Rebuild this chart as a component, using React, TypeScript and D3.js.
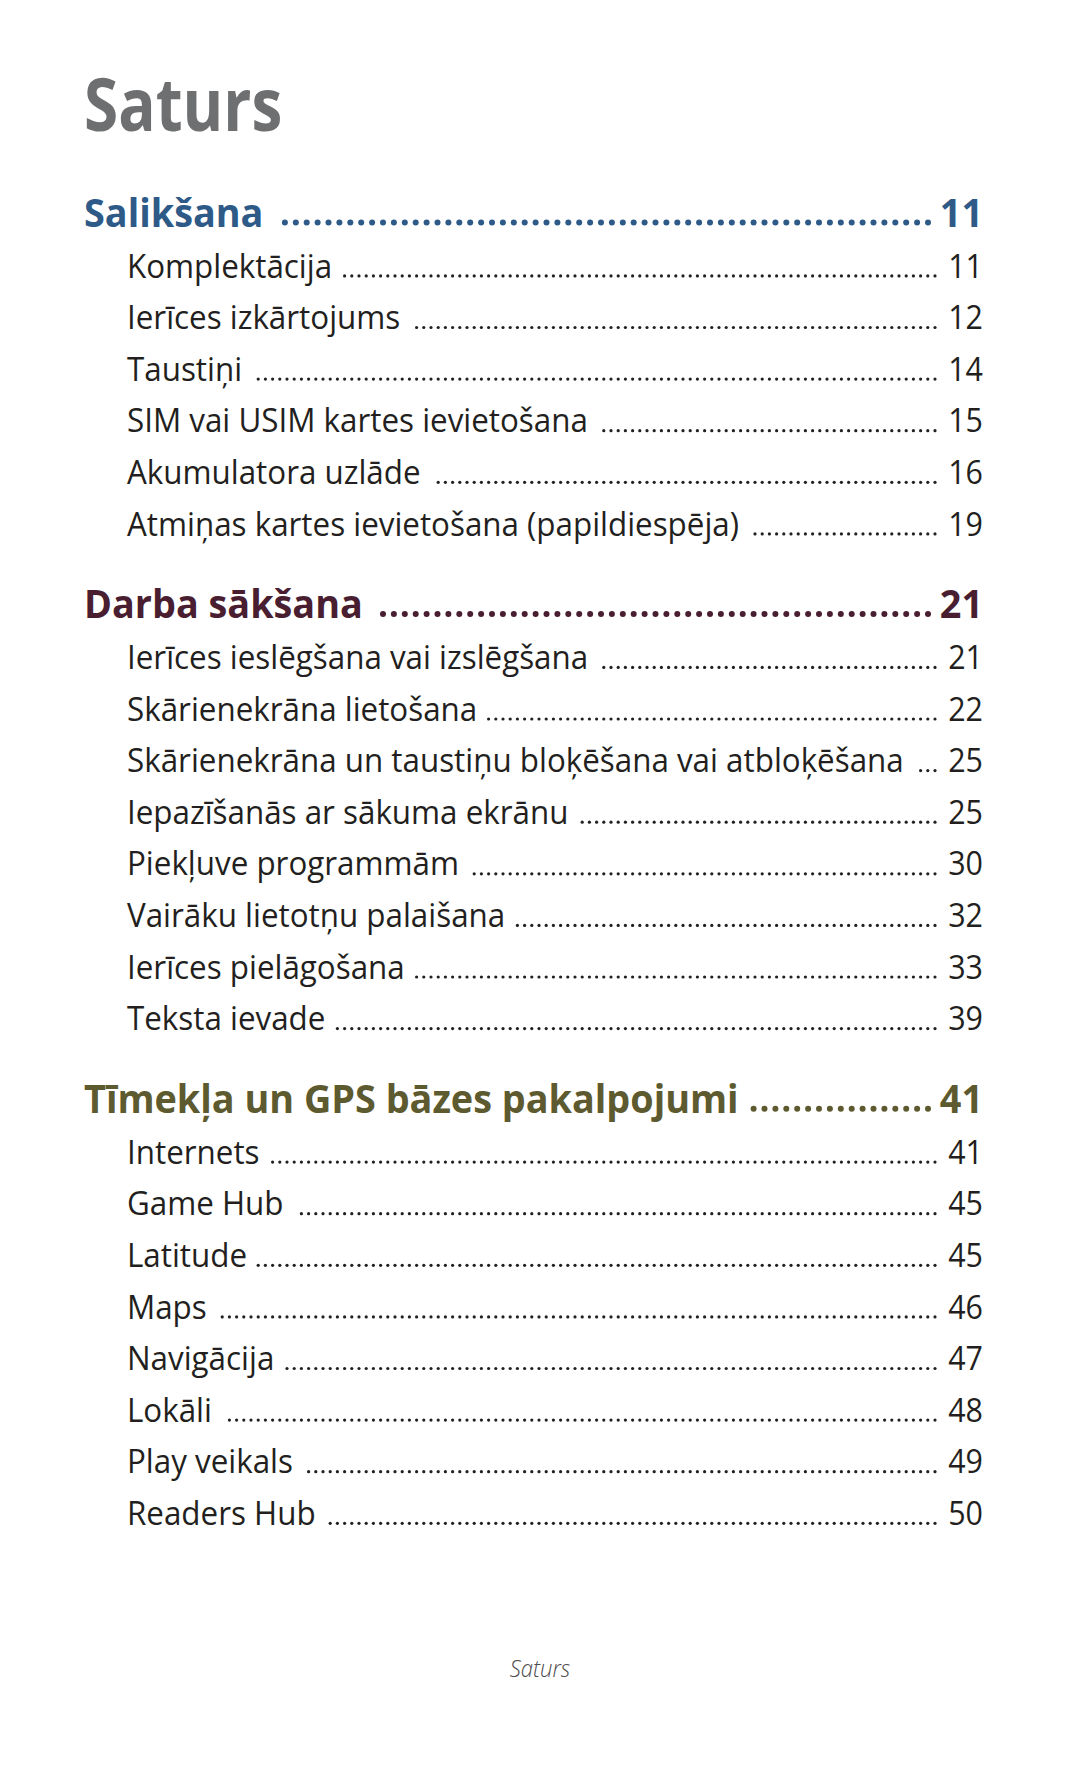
import React, { useEffect, useRef } from "react";
import * as d3 from "d3";

const pageTitle = "Saturs";
const footerText = "Saturs";

const sectionTitles = ["Salikšana", "Darba sākšana", "Tīmekļa un GPS bāzes pakalpojumi"];
const sectionPages = [11, 21, 41];
const sectionColors = ["#2e5a88", "#4a1e31", "#5d5a2f"];

const items1 = [
  "Komplektācija",
  "Ierīces izkārtojums",
  "Taustiņi",
  "SIM vai USIM kartes ievietošana",
  "Akumulatora uzlāde",
  "Atmiņas kartes ievietošana (papildiespēja)",
];
const pages1 = [11, 12, 14, 15, 16, 19];

const items2 = [
  "Ierīces ieslēgšana vai izslēgšana",
  "Skārienekrāna lietošana",
  "Skārienekrāna un taustiņu bloķēšana vai atbloķēšana",
  "Iepazīšanās ar sākuma ekrānu",
  "Piekļuve programmām",
  "Vairāku lietotņu palaišana",
  "Ierīces pielāgošana",
  "Teksta ievade",
];
const pages2 = [21, 22, 25, 25, 30, 32, 33, 39];

const items3 = [
  "Internets",
  "Game Hub",
  "Latitude",
  "Maps",
  "Navigācija",
  "Lokāli",
  "Play veikals",
  "Readers Hub",
];
const pages3 = [41, 45, 45, 46, 47, 48, 49, 50];

const sectionItems = [items1, items2, items3];
const sectionItemPages = [pages1, pages2, pages3];

const W = 1080;
const H = 1771;
const FONT = "'Open Sans', 'Noto Sans', sans-serif";

export default function App() {
  const ref = useRef<SVGSVGElement | null>(null);

  useEffect(() => {
    const svg = d3.select(ref.current);
    svg.selectAll("*").remove();

    const leftHead = 84;
    const leftItem = 127;
    const rightNum = 983;
    const itemDotEnd = 935;
    const headDotEnd = 928;
    const itemPitch = 7.2;
    const headPitch = 10.9;
    const headSx = 0.945;
    const itemSx = 0.98;

    // title
    svg
      .append("text")
      .attr("transform", `translate(${leftHead},131) scale(0.85,1)`)
      .attr("font-family", FONT)
      .attr("font-weight", 700)
      .attr("font-size", 73)
      .attr("fill", "#6e6f71")
      .text(pageTitle);

    let y = 226.5;
    sectionTitles.forEach((title, si) => {
      const color = sectionColors[si];
      const g = svg.append("g");
      const ht = g
        .append("text")
        .attr("transform", `translate(${leftHead},${y}) scale(${headSx},1)`)
        .attr("font-family", FONT)
        .attr("font-weight", 700)
        .attr("font-size", 40)
        .attr("fill", color)
        .text(title);
      const hw = (ht.node() as SVGTextElement).getComputedTextLength() * headSx;
      const hStart = leftHead + hw + 11;
      const nh = Math.max(0, Math.floor((headDotEnd - hStart) / headPitch) + 1);
      g.selectAll("circle.hd")
        .data(d3.range(nh))
        .enter()
        .append("circle")
        .attr("cx", (k) => headDotEnd - k * headPitch)
        .attr("cy", y - 4)
        .attr("r", 3)
        .attr("fill", color);
      g.append("text")
        .attr("transform", `translate(${rightNum},${y}) scale(${headSx},1)`)
        .attr("text-anchor", "end")
        .attr("font-family", FONT)
        .attr("font-weight", 700)
        .attr("font-size", 40)
        .attr("fill", color)
        .text(String(sectionPages[si]));

      y += 51;
      const items = sectionItems[si];
      const pages = sectionItemPages[si];
      items.forEach((label, ii) => {
        const t = g
          .append("text")
          .attr("transform", `translate(${leftItem},${y}) scale(${itemSx},1)`)
          .attr("font-family", FONT)
          .attr("font-size", 32)
          .attr("fill", "#231f20")
          .text(label);
        const w = (t.node() as SVGTextElement).getComputedTextLength() * itemSx;
        const start = leftItem + w + 11;
        const n = Math.max(0, Math.floor((itemDotEnd - start) / itemPitch) + 1);
        const yy = y;
        g.selectAll(`circle.d${ii}`)
          .data(d3.range(n))
          .enter()
          .append("circle")
          .attr("cx", (k) => itemDotEnd - k * itemPitch)
          .attr("cy", yy - 1.6)
          .attr("r", 1.6)
          .attr("fill", "#231f20");
        g.append("text")
          .attr("transform", `translate(${rightNum},${y}) scale(0.95,1)`)
          .attr("text-anchor", "end")
          .attr("font-family", FONT)
          .attr("font-size", 32)
          .attr("fill", "#231f20")
          .text(String(pages[ii]));
        if (ii < items.length - 1) y += 51.6;
      });
      y += 82.5;
    });

    svg
      .append("text")
      .attr("transform", `translate(540,1677) scale(0.92,1)`)
      .attr("text-anchor", "middle")
      .attr("font-family", FONT)
      .attr("font-style", "italic")
      .attr("font-weight", 300)
      .attr("font-size", 24)
      .attr("fill", "#4d4b4d")
      .text(footerText);
  }, []);

  return (
    <svg
      ref={ref}
      width={W}
      height={H}
      viewBox={`0 0 ${W} ${H}`}
      style={{ position: "absolute", left: 0, top: 0, background: "#fff", display: "block" }}
    />
  );
}
